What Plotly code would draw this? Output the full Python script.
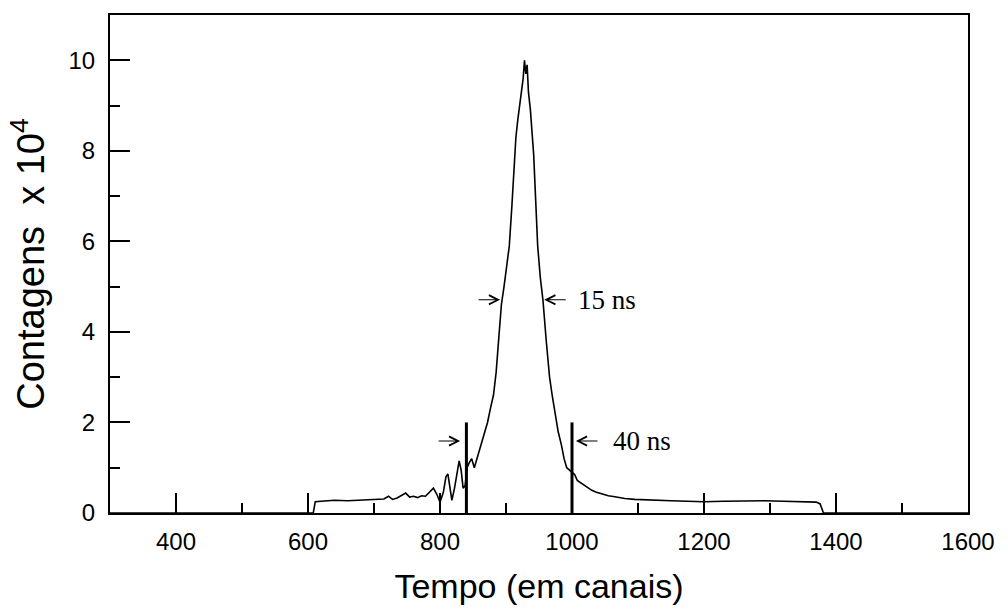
import plotly.graph_objects as go

# Spectrum: time channel vs counts (x 10^4)
channels = [300, 608, 611, 620, 640, 660, 680, 700, 715, 722, 728, 735, 742, 748, 754,
            760, 766, 772, 778, 784, 790, 795, 800, 805, 809, 812, 815, 818, 822, 826,
            829, 832, 835, 838, 841, 844, 848, 852, 856, 862, 867, 872, 877, 881, 885,
            889, 893, 897, 901, 905, 909, 912, 915, 918, 921, 924, 926, 928, 930, 932,
            934, 937, 940, 942, 945, 948, 952, 956, 961, 966, 970, 974, 979, 984, 988,
            992, 996, 1000, 1004, 1008, 1012, 1017, 1022, 1030, 1037, 1045, 1055, 1065,
            1080, 1095, 1110, 1130, 1150, 1175, 1200, 1230, 1260, 1290, 1320, 1350, 1370,
            1376, 1379, 1381, 1600]
counts = [0.0, 0.0, 0.25, 0.26, 0.28, 0.27, 0.29, 0.30, 0.31, 0.37, 0.30, 0.33, 0.40, 0.44, 0.35,
          0.37, 0.34, 0.38, 0.37, 0.45, 0.55, 0.42, 0.24, 0.45, 0.80, 0.86, 0.55, 0.28, 0.55, 0.95,
          1.15, 0.95, 0.55, 0.60, 1.00, 1.10, 1.20, 1.00, 1.20, 1.45, 1.70, 2.00, 2.35, 2.60, 3.10,
          3.80, 4.60, 5.00, 5.40, 5.90, 6.80, 7.70, 8.30, 8.70, 9.00, 9.30, 9.60, 10.0, 9.70, 9.90,
          9.30, 8.90, 8.30, 7.90, 6.90, 5.90, 5.20, 4.70, 3.80, 3.00, 2.60, 2.20, 1.80, 1.50, 1.20,
          1.00, 0.95, 0.90, 0.85, 0.72, 0.68, 0.62, 0.57, 0.50, 0.46, 0.42, 0.38, 0.36,
          0.32, 0.30, 0.29, 0.27, 0.27, 0.26, 0.25, 0.26, 0.27, 0.27, 0.26, 0.25, 0.24,
          0.20, 0.08, 0.0, 0.0]

# Window markers (vertical bars)
marker_channels = [840, 1000]
marker_heights = [2.0, 2.0]

# Width annotations: arrow tips (channel, level) and labels
fwhm_tips = [891, 958]
fwhm_level = 4.71
window_tips = [830.5, 1006]
window_level = 1.59
label_fwhm = "15 ns"
label_window = "40 ns"

bar_x, bar_y = [], []
for c, h in zip(marker_channels, marker_heights):
    bar_x += [c, c, None]
    bar_y += [0, h, None]

fig = go.Figure()
fig.add_trace(go.Scatter(x=channels, y=counts, mode="lines",
                         line=dict(color="black", width=1.6), showlegend=False,
                         hoverinfo="skip"))
fig.add_trace(go.Scatter(x=bar_x, y=bar_y, mode="lines",
                         line=dict(color="black", width=3), showlegend=False,
                         hoverinfo="skip"))

serif = dict(family="Liberation Serif, Times New Roman, serif", size=27, color="black")


def add_arrow(tip_x, level, direction):
    # direction +1: arrow points right (tail on the left), -1: points left
    fig.add_annotation(x=tip_x, y=level, ax=-23 * direction, ay=0, text="",
                       showarrow=True, arrowhead=5, arrowsize=1.5, arrowwidth=1.2,
                       arrowcolor="black", standoff=0, startstandoff=0)


add_arrow(fwhm_tips[0], fwhm_level, +1)
add_arrow(fwhm_tips[1], fwhm_level, -1)
add_arrow(window_tips[0], window_level, +1)
add_arrow(window_tips[1], window_level, -1)

fig.add_annotation(x=1006, y=fwhm_level, text=label_fwhm, showarrow=False,
                   xanchor="left", yanchor="middle", font=serif)
fig.add_annotation(x=1059, y=window_level, text=label_window, showarrow=False,
                   xanchor="left", yanchor="middle", font=serif)

sans = "Liberation Sans, Arial, Helvetica, sans-serif"
fig.update_layout(
    width=1007, height=611,
    margin=dict(l=110, r=28, t=15, b=96),
    paper_bgcolor="white", plot_bgcolor="white",
    font=dict(family=sans, color="black"),
    xaxis=dict(
        range=[300, 1600], tick0=0, dtick=200,
        ticks="inside", ticklen=20, tickwidth=1.5, tickcolor="black",
        minor=dict(dtick=100, tick0=0, ticks="inside", ticklen=10, tickwidth=1.5,
                   tickcolor="black"),
        showline=True, linecolor="black", linewidth=2, mirror=True,
        showgrid=False, zeroline=False,
        tickfont=dict(size=24, family=sans),
        ticklabelstandoff=6,
        title=dict(text="Tempo (em canais)", font=dict(size=34, family=sans), standoff=20),
    ),
    yaxis=dict(
        range=[0, 11], tick0=0, dtick=2,
        ticks="inside", ticklen=20, tickwidth=1.5, tickcolor="black",
        minor=dict(dtick=1, tick0=0, ticks="inside", ticklen=10, tickwidth=1.5,
                   tickcolor="black"),
        showline=True, linecolor="black", linewidth=2, mirror=True,
        showgrid=False, zeroline=False,
        tickfont=dict(size=24, family=sans),
        ticklabelstandoff=8,
        title=dict(text="Contagens  x 10<sup>4</sup>",
                   font=dict(size=38, family=sans), standoff=12),
    ),
)

fig.write_html("out.html")
